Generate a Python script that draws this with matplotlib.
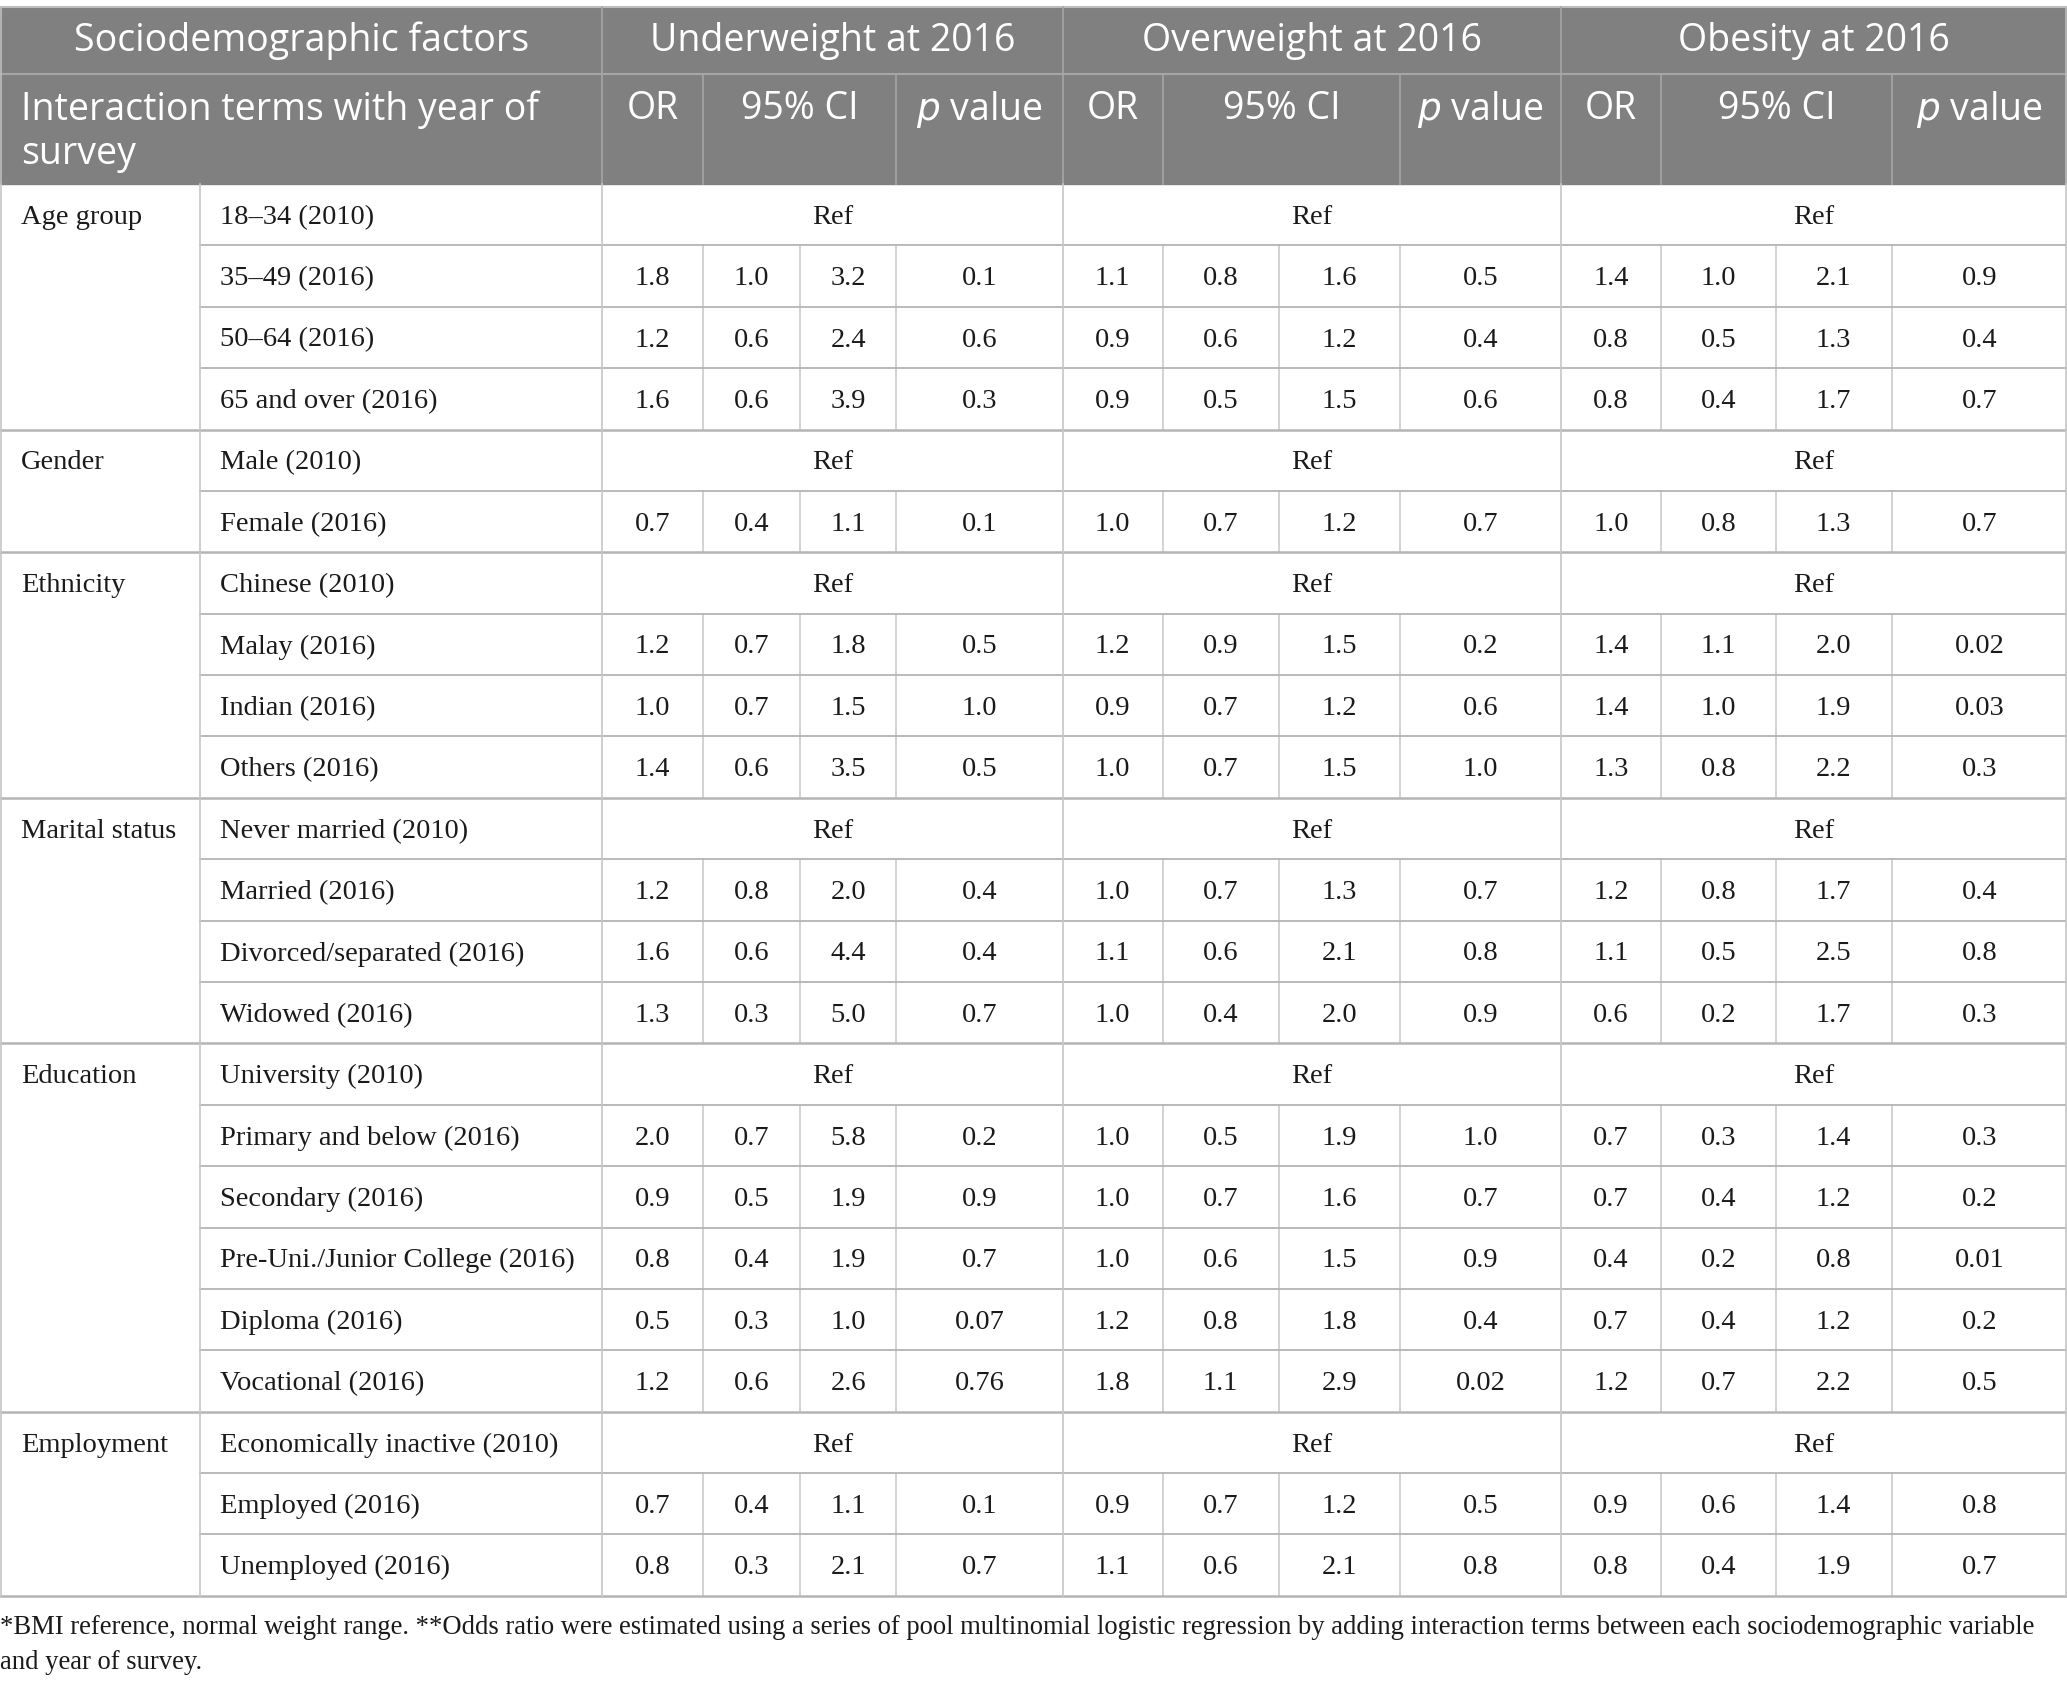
import matplotlib.pyplot as plt

# Table content
groups = ["Age group", "Gender", "Ethnicity", "Marital status", "Education", "Employment"]
group_sizes = [4, 2, 4, 4, 6, 3]
terms = ["18\u201334 (2010)", "35\u201349 (2016)", "50\u201364 (2016)", "65 and over (2016)",
         "Male (2010)", "Female (2016)",
         "Chinese (2010)", "Malay (2016)", "Indian (2016)", "Others (2016)",
         "Never married (2010)", "Married (2016)", "Divorced/separated (2016)", "Widowed (2016)",
         "University (2010)", "Primary and below (2016)", "Secondary (2016)",
         "Pre-Uni./Junior College (2016)", "Diploma (2016)", "Vocational (2016)",
         "Economically inactive (2010)", "Employed (2016)", "Unemployed (2016)"]

outcomes = ["Underweight at 2016", "Overweight at 2016", "Obesity at 2016"]

R = None  # reference category row
under_or = [R, "1.8", "1.2", "1.6", R, "0.7", R, "1.2", "1.0", "1.4", R, "1.2", "1.6", "1.3",
            R, "2.0", "0.9", "0.8", "0.5", "1.2", R, "0.7", "0.8"]
under_lo = [R, "1.0", "0.6", "0.6", R, "0.4", R, "0.7", "0.7", "0.6", R, "0.8", "0.6", "0.3",
            R, "0.7", "0.5", "0.4", "0.3", "0.6", R, "0.4", "0.3"]
under_hi = [R, "3.2", "2.4", "3.9", R, "1.1", R, "1.8", "1.5", "3.5", R, "2.0", "4.4", "5.0",
            R, "5.8", "1.9", "1.9", "1.0", "2.6", R, "1.1", "2.1"]
under_p = [R, "0.1", "0.6", "0.3", R, "0.1", R, "0.5", "1.0", "0.5", R, "0.4", "0.4", "0.7",
           R, "0.2", "0.9", "0.7", "0.07", "0.76", R, "0.1", "0.7"]

over_or = [R, "1.1", "0.9", "0.9", R, "1.0", R, "1.2", "0.9", "1.0", R, "1.0", "1.1", "1.0",
           R, "1.0", "1.0", "1.0", "1.2", "1.8", R, "0.9", "1.1"]
over_lo = [R, "0.8", "0.6", "0.5", R, "0.7", R, "0.9", "0.7", "0.7", R, "0.7", "0.6", "0.4",
           R, "0.5", "0.7", "0.6", "0.8", "1.1", R, "0.7", "0.6"]
over_hi = [R, "1.6", "1.2", "1.5", R, "1.2", R, "1.5", "1.2", "1.5", R, "1.3", "2.1", "2.0",
           R, "1.9", "1.6", "1.5", "1.8", "2.9", R, "1.2", "2.1"]
over_p = [R, "0.5", "0.4", "0.6", R, "0.7", R, "0.2", "0.6", "1.0", R, "0.7", "0.8", "0.9",
          R, "1.0", "0.7", "0.9", "0.4", "0.02", R, "0.5", "0.8"]

obes_or = [R, "1.4", "0.8", "0.8", R, "1.0", R, "1.4", "1.4", "1.3", R, "1.2", "1.1", "0.6",
           R, "0.7", "0.7", "0.4", "0.7", "1.2", R, "0.9", "0.8"]
obes_lo = [R, "1.0", "0.5", "0.4", R, "0.8", R, "1.1", "1.0", "0.8", R, "0.8", "0.5", "0.2",
           R, "0.3", "0.4", "0.2", "0.4", "0.7", R, "0.6", "0.4"]
obes_hi = [R, "2.1", "1.3", "1.7", R, "1.3", R, "2.0", "1.9", "2.2", R, "1.7", "2.5", "1.7",
           R, "1.4", "1.2", "0.8", "1.2", "2.2", R, "1.4", "1.9"]
obes_p = [R, "0.9", "0.4", "0.7", R, "0.7", R, "0.02", "0.03", "0.3", R, "0.4", "0.8", "0.3",
          R, "0.3", "0.2", "0.01", "0.2", "0.5", R, "0.8", "0.7"]

footnote_lines = ["*BMI reference, normal weight range. **Odds ratio were estimated using a series of pool "
                  "multinomial logistic regression by adding interaction terms between each sociodemographic variable",
                  "and year of survey."]

blocks = [
    (under_or, under_lo, under_hi, under_p),
    (over_or, over_lo, over_hi, over_p),
    (obes_or, obes_lo, obes_hi, obes_p),
]

# layout (in a 1568 x 1277 coordinate space)
W, H = 1568, 1277
x_sub = 152
block_edges = [457, 806, 1184, 1568]
inner_edges = [[533, 607, 680], [882, 970, 1062], [1260, 1347, 1435]]
y_top = 5
y_h1 = 56
y_h2 = 139.5
row_h = 46.55
n_rows = len(terms)
y_bot = y_h2 + n_rows * row_h

head_bg = "#808080"
head_line = "#a6a6a6"
hline = "#b4b4b4"
vline = "#c6c6c6"
sans = "Open Sans"
serif = "Liberation Serif"
fs_head = 27
fs_body = 20.5
txt = "#1a1a1a"

fig = plt.figure(figsize=(20.67, 16.84), dpi=100)
ax = fig.add_axes([0, 0, 1, 1])
ax.set_xlim(0, W)
ax.set_ylim(H, 0)
ax.axis("off")

# header background
ax.add_patch(plt.Rectangle((0, y_top), W, y_h2 - y_top, color=head_bg, zorder=0))
ax.plot([0, W], [y_top, y_top], color="#bdbdbd", lw=1.5)
ax.plot([0, W], [y_h1, y_h1], color=head_line, lw=1.5)
for xe in block_edges[:-1]:
    ax.plot([xe, xe], [y_top, y_h2], color=head_line, lw=1.2)
for ie in inner_edges:
    for xe in (ie[0], ie[2]):
        ax.plot([xe, xe], [y_h1, y_h2], color=head_line, lw=1.2)

# header text
ax.text(block_edges[0] / 2, 31, "Sociodemographic factors", color="white",
        fontsize=fs_head, family=sans, ha="center", va="center")
ax.text(16, 100, "Interaction terms with year of\nsurvey", color="white", fontsize=fs_head,
        family=sans, ha="left", va="center", linespacing=1.2)
for b, name in enumerate(outcomes):
    x0, x1 = block_edges[b], block_edges[b + 1]
    ie = inner_edges[b]
    ax.text((x0 + x1) / 2, 31, name, color="white", fontsize=fs_head,
            family=sans, ha="center", va="center")
    ax.text((x0 + ie[0]) / 2, 83, "OR", color="white", fontsize=fs_head, family=sans,
            ha="center", va="center")
    ax.text((ie[0] + ie[2]) / 2, 83, "95% CI", color="white", fontsize=fs_head, family=sans,
            ha="center", va="center")
    ax.text((ie[2] + x1) / 2, 83, "$\\mathit{p}$ value", color="white", fontsize=fs_head,
            family=sans, ha="center", va="center")

# body
row = 0
for g, size in zip(groups, group_sizes):
    y0 = y_h2 + row * row_h
    ax.text(16, y0 + row_h / 2 + 2, g, fontsize=fs_body, family=serif, ha="left", va="center",
            color=txt)
    for k in range(size):
        i = row + k
        yt = y_h2 + i * row_h
        yc = yt + row_h / 2 + 2
        ax.text(167, yc, terms[i], fontsize=fs_body, family=serif, ha="left", va="center",
                color=txt)
        for b, cols in enumerate(blocks):
            x0, x1 = block_edges[b], block_edges[b + 1]
            if cols[0][i] is None:
                ax.text((x0 + x1) / 2, yc, "Ref", fontsize=fs_body, family=serif,
                        ha="center", va="center", color=txt)
                continue
            edges = [x0] + inner_edges[b] + [x1]
            for c in range(4):
                ax.text((edges[c] + edges[c + 1]) / 2, yc, cols[c][i], fontsize=fs_body,
                        family=serif, ha="center", va="center", color=txt)
            for xe in inner_edges[b]:
                ax.plot([xe, xe], [yt, yt + row_h], color=vline, lw=1.1)
        if k > 0:
            ax.plot([x_sub, W], [yt, yt], color=hline, lw=1.3)
    row += size
    yb = y_h2 + row * row_h
    ax.plot([0, W], [yb, yb], color=hline, lw=1.8)

# vertical lines across body
for xe in [0.6, x_sub] + block_edges[:-1] + [W - 0.6]:
    ax.plot([xe, xe], [y_h2, y_bot], color=vline, lw=1.2)
ax.plot([0.6, 0.6], [y_top, y_h2], color="#bdbdbd", lw=1.2)
ax.plot([W - 0.6, W - 0.6], [y_top, y_h2], color="#bdbdbd", lw=1.2)

for j, line in enumerate(footnote_lines):
    ax.text(0, 1234 + j * 27, line, fontsize=19.15, family=serif, ha="left", va="center", color=txt)

fig.savefig("out.png", dpi=100)
